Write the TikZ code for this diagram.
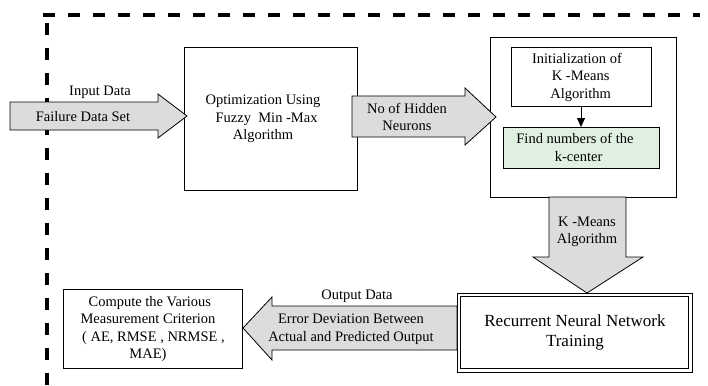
\documentclass[tikz,border=0pt]{standalone}
\usepackage{fontspec}
\setmainfont{Liberation Serif}
\usetikzlibrary{arrows.meta}
\definecolor{arrowgray}{RGB}{220,220,220}
\definecolor{paleGreen}{RGB}{223,240,225}
\tikzset{
  txt/.style={font=\fontsize{14.5}{17.5}\selectfont, align=center, inner sep=0pt},
  lbl/.style={font=\fontsize{14.5}{17}\selectfont, inner sep=0pt},
  boxed/.style={draw, line width=0.8pt},
  blockarrow/.style={draw, line width=0.8pt, fill=arrowgray, line join=miter},
  frameline/.style={line width=3.5pt, dash pattern=on 12pt off 13pt},
}
\begin{document}
\begin{tikzpicture}[x=1pt,y=-1pt]
\useasboundingbox (0,0) rectangle (708,385);

% dashed boundary
\draw[frameline] (43,15) -- (700,15);
\draw[frameline] (47,23) -- (47,390);

% process boxes
\draw[boxed] (184,47) rectangle (357,190);
\node[txt] (opt) at (263,119) {Optimization Using\\\ \ Fuzzy\ \ Min -Max\\Algorithm};

\draw[boxed] (490,37) rectangle (676,197);
\coordinate (kbox) at (583,197);

\draw[boxed] (511,47) rectangle (651,106);
\node[txt] (init) at (577,77) {Initialization of\\\ \ K -Means\\\ \ Algorithm};
\coordinate (initS) at (581,106);

\draw[boxed, fill=paleGreen] (503,127) rectangle (659,168);
\node[txt] (find) at (575,147.5) {Find numbers of the\\\ \ k-center};
\coordinate (findN) at (581,127);

\draw[-{Triangle[length=9pt,width=8pt]}, line width=0.8pt] (initS) -- (findN);

% recurrent network box (double frame)
\draw[boxed] (457,293) rectangle (692,372);
\draw[boxed] (460.5,296.5) rectangle (688.5,368.5);
\node[txt, font=\fontsize{17}{20}\selectfont] (rnn) at (575,332) {Recurrent Neural Network\\Training};

% measurement box
\draw[boxed] (63,289) rectangle (242,368);
\node[txt] (meas) at (148,329) {\ Compute the Various\\Measurement Criterion\\\ \ \ ( AE, RMSE , NRMSE ,\\MAE)};

% input arrow
\draw[blockarrow] (10,102) -- (158,102) -- (158,94) -- (187,116) -- (158,138) -- (158,130) -- (10,130) -- cycle;
\node[lbl] (inlbl) at (100,92) {Input Data};
\node[txt] (fail) at (83,117) {Failure Data Set};

% hidden neurons arrow
\draw[blockarrow] (352,96) -- (465,96) -- (465,88) -- (496,117) -- (465,145) -- (465,137) -- (352,137) -- cycle;
\node[txt] (hid) at (407,117) {No of Hidden\\Neurons};

% k-means arrow (downwards)
\draw[blockarrow] (549,197) -- (626,197) -- (626,257) -- (643,257) -- (587,293) -- (533,257) -- (549,257) -- cycle;
\node[txt] (kmeans) at (587,232) {K -Means\\Algorithm};

% output arrow (leftwards)
\draw[blockarrow] (457,306) -- (272,306) -- (272,297) -- (243,328) -- (272,360) -- (272,350) -- (457,350) -- cycle;
\node[lbl] (outlbl) at (357,296) {Output Data};
\node[txt] (err) at (351,329) {Error Deviation Between\\Actual and Predicted Output};
\end{tikzpicture}
\end{document}
